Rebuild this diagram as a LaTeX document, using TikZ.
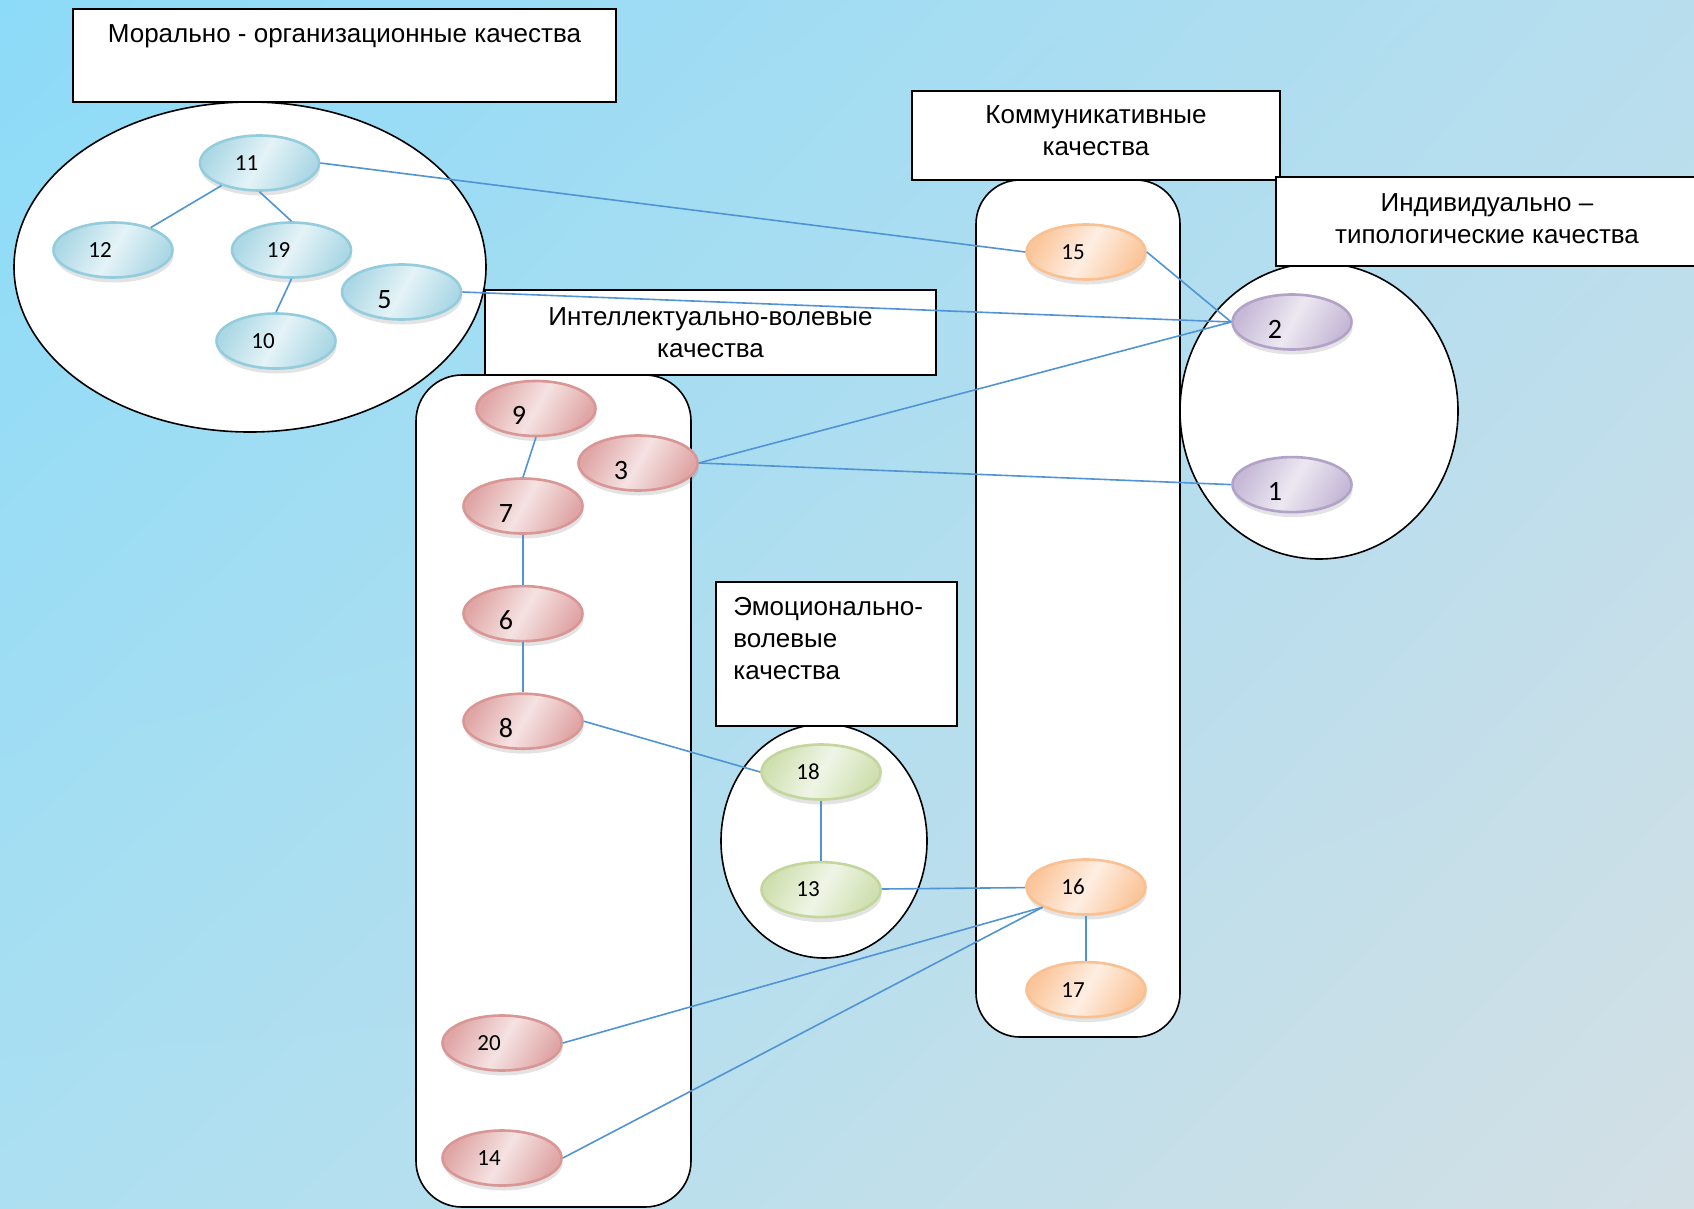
\documentclass[tikz,border=0pt]{standalone}
\usepackage{fontspec}
\setmainfont{Liberation Sans}
\newfontfamily\numfont{Carlito}
\usetikzlibrary{positioning,shapes.geometric,shadows,shadings}

\definecolor{bgtl}{RGB}{140,219,248}
\definecolor{bgtr}{RGB}{184,222,238}
\definecolor{bgbl}{RGB}{172,223,241}
\definecolor{bgbr}{RGB}{211,223,229}
\definecolor{linkblue}{RGB}{80,148,214}
\definecolor{bluerim}{RGB}{147,205,221}
\definecolor{bluedark}{RGB}{172,216,229}
\definecolor{bluelight}{RGB}{228,243,247}
\definecolor{redrim}{RGB}{217,150,148}
\definecolor{reddark}{RGB}{224,166,166}
\definecolor{redlight}{RGB}{245,226,226}
\definecolor{purplerim}{RGB}{179,162,199}
\definecolor{purpledark}{RGB}{198,185,215}
\definecolor{purplelight}{RGB}{236,232,241}
\definecolor{orangerim}{RGB}{250,192,144}
\definecolor{orangedark}{RGB}{251,198,155}
\definecolor{orangelight}{RGB}{254,238,226}
\definecolor{greenrim}{RGB}{195,214,155}
\definecolor{greendark}{RGB}{207,224,176}
\definecolor{greenlight}{RGB}{239,245,230}

\newcommand\qualtitlefont{\fontsize{26}{32}\selectfont}

\begin{document}
\begin{tikzpicture}[x=1pt,y=-1pt,
    link/.style={draw=linkblue,line width=1.6pt},
    framebox/.style={draw=black,line width=1.6pt,fill=white},
    titlebox/.style={framebox,rectangle,align=center,font=\qualtitlefont},
    quality/.style={ellipse,minimum width=119pt,minimum height=55pt,line width=2.6pt,inner sep=0pt,
        font=\numfont\fontsize{23}{27}\selectfont,execute at end node=\hspace*{26pt},
        drop shadow={shadow xshift=1pt,shadow yshift=-5pt,opacity=0.22}},
    digit/.style={font=\numfont\fontsize{28}{32}\selectfont,execute at end node=\hspace*{8pt},
        text height=32pt,text depth=0pt},
    moral/.style={quality,draw=bluerim,left color=bluedark,right color=bluedark,middle color=bluelight,shading angle=60},
    intel/.style={quality,draw=redrim,left color=reddark,right color=reddark,middle color=redlight,shading angle=60},
    indiv/.style={quality,draw=purplerim,left color=purpledark,right color=purpledark,middle color=purplelight,shading angle=60},
    comm/.style={quality,draw=orangerim,left color=orangedark,right color=orangedark,middle color=orangelight,shading angle=60},
    emo/.style={quality,draw=greenrim,left color=greendark,right color=greendark,middle color=greenlight,shading angle=60}]

    \useasboundingbox (0,0) rectangle (1694,1208);
    \shade[upper left=bgtl,upper right=bgtr,lower left=bgbl,lower right=bgbr] (0,0) rectangle (1694,1208);

    % groups
    \node[framebox,ellipse,minimum width=472pt,minimum height=330pt] (moralgrp) at (250,267) {};
    \node[framebox,rounded corners=44pt,minimum width=204pt,minimum height=857pt] (commgrp) at (1078,608.5) {};
    \node[framebox,ellipse,minimum width=278pt,minimum height=296pt] (indgrp) at (1319,411) {};
    \node[framebox,rounded corners=46pt,minimum width=275pt,minimum height=832pt] (intelgrp) at (553.5,791) {};
    \node[framebox,ellipse,minimum width=206pt,minimum height=234pt] (emogrp) at (824,841) {};

    % titles
    \node[titlebox,minimum width=543pt,minimum height=93pt,
        label={[anchor=north,inner sep=0pt,yshift=-16.5pt,font=\qualtitlefont]north:Морально - организационные качества}] (moraltitle) at (344.5,55.5) {};
    \node[titlebox,minimum width=368pt,minimum height=89pt,text depth=10pt] (commtitle) at (1096,135.5) {Коммуникативные\\качества};
    \node[titlebox,minimum width=422pt,minimum height=89pt,text depth=6pt] (indtitle) at (1487,221.5) {Индивидуально –\\типологические качества};
    \node[titlebox,minimum width=451pt,minimum height=85pt] (inteltitle) at (710.5,332.5) {Интеллектуально-волевые\\качества};
    \node[titlebox,minimum width=241pt,minimum height=144pt,
        label={[anchor=north west,inner sep=0pt,xshift=18pt,yshift=-16pt,align=left,font=\qualtitlefont]north west:Эмоционально-\\волевые\\качества}] (emotitle) at (836.5,654) {};

    % qualities
    \node[moral] (n11) at (259.5,163) {11};
    \node[moral] (n12) at (113,250) {12};
    \node[moral] (n19) at (291.5,250) {19};
    \node[moral,digit] (n5) at (401.5,292) {5};
    \node[moral] (n10) at (276,341) {10};

    \node[intel,digit] (n9) at (536,408.5) {9};
    \node[intel,digit] (n3) at (638,463) {3};
    \node[intel,digit] (n7) at (523,506) {7};
    \node[intel,digit,below=50pt of n7] (n6) {6};
    \node[intel,digit,below=50pt of n6] (n8) {8};
    \node[intel] (n20) at (502,1043) {20};
    \node[intel] (n14) at (502,1158) {14};

    \node[comm] (n15) at (1086,252) {15};
    \node[comm] (n16) at (1086,887) {16};
    \node[comm,below=45pt of n16] (n17) {17};

    \node[indiv,digit] (n2) at (1292,322) {2};
    \node[indiv,digit,below=105pt of n2] (n1) {1};

    \node[emo] (n18) at (821,772) {18};
    \node[emo,below=60pt of n18] (n13) {13};

    % links
    \draw[link] (n11) -- (n12);
    \draw[link] (n11.south) -- (n19.north);
    \draw[link] (n19.south) -- (n10.north);
    \draw[link] (n11.east) -- (n15.west);
    \draw[link] (n5.east) -- (n2.west);
    \draw[link] (n15.east) -- (n2.west);
    \draw[link] (n3.east) -- (n2.west);
    \draw[link] (n3.east) -- (n1.west);
    \draw[link] (n9.south) -- (n7.north);
    \draw[link] (n7) -- (n6);
    \draw[link] (n6) -- (n8);
    \draw[link] (n8.east) -- (n18.west);
    \draw[link] (n18) -- (n13);
    \draw[link] (n13) -- (n16);
    \draw[link] (n16) -- (n17);
    \draw[link] (n16.205) -- (n20.east);
    \draw[link] (n16.205) -- (n14.east);
\end{tikzpicture}
\end{document}
